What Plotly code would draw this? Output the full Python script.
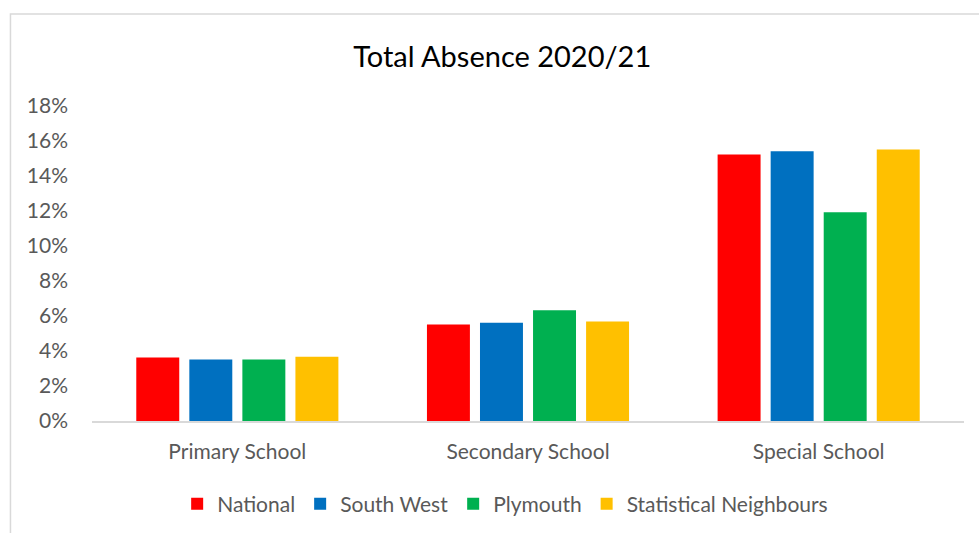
import plotly.graph_objects as go

# School phases on the category axis
categories = ["Primary School", "Secondary School", "Special School"]

# Total absence rates (fraction of sessions) for each comparison group
national = [0.0363, 0.0552, 0.1523]
south_west = [0.0352, 0.0562, 0.1542]
plymouth = [0.0352, 0.0633, 0.1193]
stat_neighbours = [0.0367, 0.0568, 0.1552]

series_names = ["National", "South West", "Plymouth", "Statistical Neighbours"]
series_values = [national, south_west, plymouth, stat_neighbours]
series_colors = ["#FF0000", "#0070C0", "#00B050", "#FFC000"]

y_ticks = [i / 100 for i in range(0, 20, 2)]

FONT = "Lato, 'Open Sans', sans-serif"
GREY_TEXT = "#595959"

fig = go.Figure()
for name, vals, col in zip(series_names, series_values, series_colors):
    fig.add_trace(go.Bar(
        x=categories,
        y=vals,
        name=name,
        marker=dict(color=col, line=dict(width=0)),
    ))

fig.update_layout(
    width=979,
    height=533,
    paper_bgcolor="white",
    plot_bgcolor="white",
    margin=dict(l=92, r=15, t=106, b=112, autoexpand=False),
    barmode="group",
    bargap=0.27,
    bargroupgap=0.19,
    title=dict(
        text="Total Absence 2020/21",
        xref="container", yref="container",
        x=0.513, y=0.893, xanchor="center", yanchor="middle",
        font=dict(family=FONT, size=29, color="#000000"),
    ),
    font=dict(family=FONT, color=GREY_TEXT),
    showlegend=True,
    legend=dict(
        orientation="h",
        xref="container", yref="container",
        x=0.516, xanchor="center",
        y=0.054, yanchor="middle",
        font=dict(family=FONT, size=21, color=GREY_TEXT),
        itemwidth=30,
        traceorder="normal",
    ),
    xaxis=dict(
        showgrid=False,
        showline=True,
        linecolor="#D9D9D9",
        linewidth=2,
        ticks="",
        tickfont=dict(family=FONT, size=21, color=GREY_TEXT),
        ticklabelstandoff=11,
    ),
    yaxis=dict(
        range=[0, 0.18],
        tickvals=y_ticks,
        tickformat=".0%",
        showgrid=False,
        showline=False,
        zeroline=False,
        ticks="",
        tickfont=dict(family=FONT, size=21, color=GREY_TEXT),
        ticklabelstandoff=23,
    ),
    shapes=[
        # light chart-area frame
        dict(
            type="rect", xref="paper", yref="paper",
            x0=-0.0935, x1=1.03, y0=-0.40, y1=1.292,
            line=dict(color="#D9D9D9", width=1.5),
            fillcolor="rgba(0,0,0,0)",
            layer="below",
        )
    ],
)

fig.write_html("out.html")
